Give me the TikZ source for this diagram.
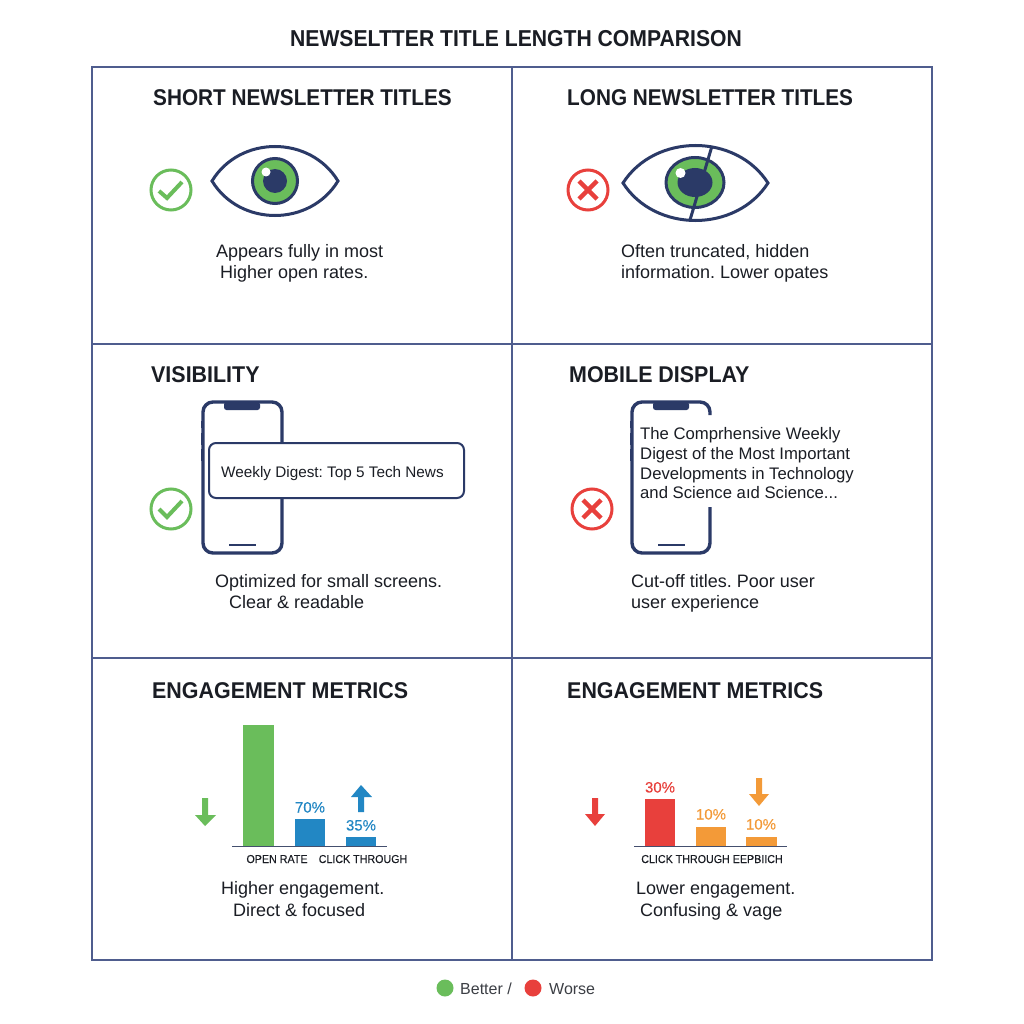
\documentclass[tikz,border=0pt]{standalone}
\usepackage{fontspec}
\setmainfont{Liberation Sans}
\newfontfamily\condbold[FakeStretch=0.91,UprightFont=* Bold]{Liberation Sans}
\newfontfamily\condtitle[FakeStretch=0.92,UprightFont=* Bold]{Liberation Sans}
\newfontfamily\condwide[FakeStretch=0.94,UprightFont=* Bold]{Liberation Sans}
\newfontfamily\axisfont[FakeStretch=0.93,FakeBold=0.2]{Liberation Sans}
\newfontfamily\medfont[FakeBold=0.25]{Liberation Sans}
\frenchspacing
\definecolor{navy}{HTML}{2B3A67}
\definecolor{gridc}{HTML}{4F5D8E}
\definecolor{good}{HTML}{6ABD5B}
\definecolor{bad}{HTML}{E8403C}
\definecolor{blueb}{HTML}{2287C4}
\definecolor{orangeb}{HTML}{F39A38}
\definecolor{ink}{HTML}{1A1D24}
\newcommand{\fs}[1]{\fontsize{#1}{#1}\selectfont}
\tikzset{
  x=1pt,y=-1pt,
  gridline/.style={draw=gridc,line width=1.5pt},
  titletext/.style={anchor=base,inner sep=0,text=ink,font=\condtitle\fs{23}},
  headtext/.style={anchor=base west,inner sep=0,text=ink,font=\condbold\fs{22.8}},
  headwide/.style={anchor=base west,inner sep=0,text=ink,font=\condwide\fs{22.8}},
  bodytext/.style={anchor=base west,inner sep=0,text=ink,font=\fs{18}},
  axistext/.style={anchor=base,inner sep=0,text=ink,font=\axisfont\fs{11.5}},
  pct/.style={anchor=base,inner sep=0,font=\medfont\fs{15}},
  phonetext/.style={anchor=base west,inner sep=0,text=ink,font=\fs{16.7}},
  ringline/.style={line width=3pt,fill=white},
  tickline/.style={line width=4pt},
  outline/.style={draw=navy,line width=3pt},
  phoneline/.style={draw=navy,line width=3.4pt},
  barline/.style={draw=navy,line width=2.4pt},
}
\begin{document}
\begin{tikzpicture}
\useasboundingbox[fill=white] (0,0) rectangle (1024,1024);
% grid
\draw[gridline] (92,67) rectangle (932,960);
\draw[gridline] (512,67) -- (512,960);
\draw[gridline] (92,344) -- (932,344);
\draw[gridline] (92,658) -- (932,658);
% title and headings
\node[titletext] (t0) at (516,47) {NEWSELTTER TITLE LENGTH COMPARISON};
\node[headtext] (h1) at (153,106) {SHORT NEWSLETTER TITLES};
\node[headtext] (h2) at (567,106) {LONG NEWSLETTER TITLES};
\node[headwide] (h3) at (151,382) {VISIBILITY};
\node[headwide] (h4) at (569,382) {MOBILE DISPLAY};
\node[headwide] (h5) at (152,698) {ENGAGEMENT METRICS};
\node[headwide] (h6) at (567,698) {ENGAGEMENT METRICS};
% body text
\node[bodytext] (b1) at (216,257) {Appears fully in most};
\node[bodytext] (b2) at (220,278) {Higher open rates.};
\node[bodytext] (b3) at (621,257) {Often truncated, hidden};
\node[bodytext] (b4) at (621,278) {information. Lower opates};
\node[bodytext] (b5) at (215,587) {Optimized for small screens.};
\node[bodytext] (b6) at (229,608) {Clear \& readable};
\node[bodytext] (b7) at (631,587) {Cut-off titles. Poor user};
\node[bodytext] (b8) at (631,608) {user experience};
\node[bodytext] (b9) at (221,894) {Higher engagement.};
\node[bodytext] (b10) at (233,916) {Direct \& focused};
\node[bodytext] (b11) at (636,894) {Lower engagement.};
\node[bodytext] (b12) at (640,916) {Confusing \& vage};
% eye 1
\draw[outline] (212,181) .. controls (240,135) and (310,135) .. (338,181)
  .. controls (310,227) and (240,227) .. cycle;
\draw[draw=navy,line width=3pt,fill=good] (275,181) circle (22.5);
\fill[navy] (275,181) circle (12);
\fill[white] (266,172) circle (4.5);
\draw[ringline,draw=good] (171,190) circle (20);
\draw[tickline,draw=good] (159,191) -- (167,198) -- (182,182);
% eye 2
\draw[outline] (623,183) .. controls (655,133) and (736,133) .. (768,183)
  .. controls (736,233) and (655,233) .. cycle;
\draw[draw=navy,line width=3pt,fill=good] (695,182.5) ellipse (29 and 25);
\fill[navy] (695,182.5) ellipse (17.5 and 14.5);
\fill[white] (680.5,173) circle (5);
\draw[draw=navy,line width=3pt] (712,146) -- (690,220);
\draw[ringline,draw=bad] (588,190) circle (20);
\draw[tickline,draw=bad,line width=4.5pt] (579,181) -- (597,199);
\draw[tickline,draw=bad,line width=4.5pt] (597,181) -- (579,199);
% phone 1
\draw[phoneline,fill=white,rounded corners=10pt] (203,402) rectangle (282,553);
\fill[navy,rounded corners=2.5pt] (224,402) -- (260,402) -- (260,410) -- (224,410) -- cycle;
\draw[barline] (229,545) -- (256,545);
\fill[navy] (200.5,421) rectangle (203,428);
\fill[navy] (200.5,433) rectangle (203,445);
\fill[navy] (200.5,449) rectangle (203,461);
\draw[draw=navy,line width=2pt,fill=white,rounded corners=7pt] (209,443) rectangle (464,498);
\node[anchor=base west,inner sep=0,text=ink,font=\fs{15.3}] (p1) at (221,477) {Weekly Digest: Top 5 Tech News};
\draw[ringline,draw=good] (171,509) circle (20);
\draw[tickline,draw=good] (159,509) -- (167,517) -- (182,501);
% phone 2
\draw[phoneline,rounded corners=10pt] (710,415) -- (710,402) -- (632,402) -- (632,553) -- (710,553) -- (710,507);
\fill[navy,rounded corners=2.5pt] (653,402) -- (689,402) -- (689,410) -- (653,410) -- cycle;
\draw[barline] (658,545) -- (685,545);
\fill[navy] (629.5,421) rectangle (632,428);
\fill[navy] (629.5,433) rectangle (632,445);
\fill[navy] (629.5,449) rectangle (632,461);
\node[phonetext] (q1) at (640,439) {The Comprhensive Weekly};
\node[phonetext] (q2) at (640,459) {Digest of the Most Important};
\node[phonetext] (q3) at (640,479) {Developments in Technology};
\node[phonetext] (q4) at (640,498) {and Science aıd Science...};
\draw[ringline,draw=bad] (592,509) circle (20);
\draw[tickline,draw=bad,line width=4.5pt] (583,500) -- (601,518);
\draw[tickline,draw=bad,line width=4.5pt] (601,500) -- (583,518);
% bars left
\fill[good] (243,725) rectangle (274,846);
\fill[blueb] (295,819) rectangle (325,846);
\fill[blueb] (346,837) rectangle (376,846);
\draw[draw=navy!70!gray,line width=1.3pt] (232,846.5) -- (387,846.5);
\node[pct,text=blueb] (v1) at (310,812.5) {70\%};
\node[pct,text=blueb] (v2) at (361,830.5) {35\%};
\node[axistext] (l1) at (277,863) {OPEN RATE};
\node[axistext] (l2) at (363,863) {CLICK THROUGH};
\fill[good] (202,798) -- (208,798) -- (208,815) -- (216,815) -- (205,826) -- (195,815) -- (202,815) -- cycle;
\fill[blueb] (358,812) -- (364,812) -- (364,797) -- (372,797) -- (361,785) -- (351,797) -- (358,797) -- cycle;
% bars right
\fill[bad] (645,799) rectangle (675,846);
\fill[orangeb] (696,827) rectangle (726,846);
\fill[orangeb] (746,837) rectangle (777,846);
\draw[draw=navy!70!gray,line width=1.3pt] (634,846.5) -- (787,846.5);
\node[pct,text=bad] (v3) at (660,792.5) {30\%};
\node[pct,text=orangeb] (v4) at (711,819.5) {10\%};
\node[pct,text=orangeb] (v5) at (761,829.5) {10\%};
\node[axistext] (l3) at (712,863) {CLICK THROUGH EEPBIICH};
\fill[bad] (592,798) -- (598,798) -- (598,814) -- (605,814) -- (595,826) -- (585,814) -- (592,814) -- cycle;
\fill[orangeb] (756,778) -- (762,778) -- (762,794) -- (769,794) -- (759,806) -- (749,794) -- (756,794) -- cycle;
% legend
\fill[good] (445,988) circle (8.5);
\fill[bad] (533,988) circle (8.5);
\node[anchor=base west,inner sep=0,text=ink!85,font=\fs{16}] (g1) at (460,994) {Better /};
\node[anchor=base west,inner sep=0,text=ink!85,font=\fs{16}] (g2) at (549,994) {Worse};
\end{tikzpicture}
\end{document}
